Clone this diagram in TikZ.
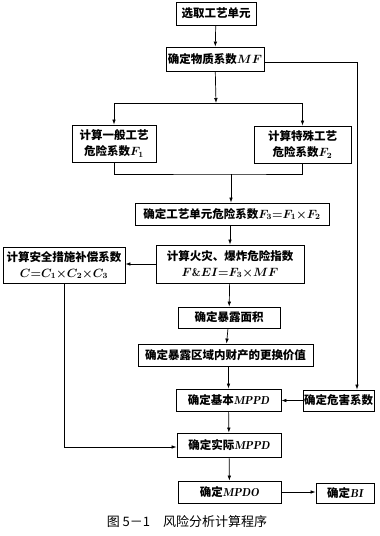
\documentclass[tikz,border=0pt]{standalone}
\usepackage{fontspec}
\usepackage{tikz}
\usetikzlibrary{arrows.meta,positioning,calc}
\newfontfamily\cjk{Noto Sans CJK SC}
\tikzset{
  box/.style={draw, line width=0.8pt, inner sep=0pt, align=center, font=\cjk\bfseries\boldmath\fontsize{11.5}{16}\selectfont},
  arr/.style={line width=0.7pt, -{Latex[length=5pt,width=3.6pt]}},
  ln/.style={line width=0.7pt}
}
\begin{document}
\begin{tikzpicture}[x=1pt, y=-1pt]
\useasboundingbox (0,0) rectangle (380,536);

\node[box, minimum width=80pt, minimum height=23pt] (sel) at (216,13.5) {选取工艺单元};
\node[box, minimum width=98pt, minimum height=24pt] (mf) at (215,59) {确定物质系数$MF$};
\node[box, minimum width=84pt, minimum height=37pt] (fone) at (114,143.5) {计算一般工艺\\危险系数$F_1$};
\node[box, minimum width=97pt, minimum height=37pt] (ftwo) at (302.5,144.5) {计算特殊工艺\\危险系数$F_2$};
\node[box, minimum width=194pt, minimum height=22pt] (fthree) at (232,214) {确定工艺单元危险系数$F_3{=}F_1{\times}F_2$};
\node[box, minimum width=148pt, minimum height=38pt] (fei) at (230,264) {计算火灾、爆炸危险指数\\$F\&EI{=}F_3{\times}MF$};
\node[box, minimum width=122pt, minimum height=36pt] (comp) at (64,265) {计算安全措施补偿系数\\$C{=}C_1{\times}C_2{\times}C_3$};
\node[box, minimum width=102pt, minimum height=21pt] (area) at (229,317.5) {确定暴露面积};
\node[box, minimum width=175pt, minimum height=22pt] (value) at (225.5,355) {确定暴露区域内财产的更换价值};
\node[box, minimum width=105pt, minimum height=22pt] (base) at (228.5,400) {确定基本$\mathit{MPPD}$};
\node[box, minimum width=71pt, minimum height=21pt] (haz) at (338.5,400.5) {确定危害系数};
\node[box, minimum width=104pt, minimum height=24pt] (real) at (229,445) {确定实际$\mathit{MPPD}$};
\node[box, minimum width=103pt, minimum height=22pt] (mpdo) at (229.5,492) {确定$\mathit{MPDO}$};
\node[box, minimum width=58pt, minimum height=20pt] (bi) at (345,493) {确定$\mathit{BI}$};
\node[font=\cjk\fontsize{13}{16}\selectfont] (cap) at (187,522) {图 5－1\quad 风险分析计算程序};

\coordinate (split) at (216,103);
\coordinate (join) at (231,174);
\coordinate (mfturn) at (357,62);

\draw[arr] (sel) -- (mf);
\draw[arr] (mf) -- (split);
\draw[arr] (split) -| (fone.north);
\draw[arr] (split) -| (ftwo.north);
\draw[ln] (fone.south) |- (join) -| (ftwo.south);
\draw[arr] (join) -- (join |- fthree.north);
\draw[arr] (mf.east |- mfturn) -- (mfturn) -- (mfturn |- haz.north);
\draw[arr] (fthree.south -| fei) -- (fei.north);
\draw[arr] (fei.west) -- (fei.west -| comp.east);
\draw[arr] (fei) -- (area);
\draw[arr] (area) -- (value);
\draw[arr] (value.south -| base) -- (base.north);
\draw[arr] (haz.west) -- (haz.west -| base.east);
\draw[arr] (base) -- (real);
\draw[arr] (comp.south) |- ($(real.west)+(0,2)$);
\draw[arr] (real) -- (mpdo);
\draw[arr] (mpdo.east) -- (mpdo.east -| bi.west);
\end{tikzpicture}
\end{document}
